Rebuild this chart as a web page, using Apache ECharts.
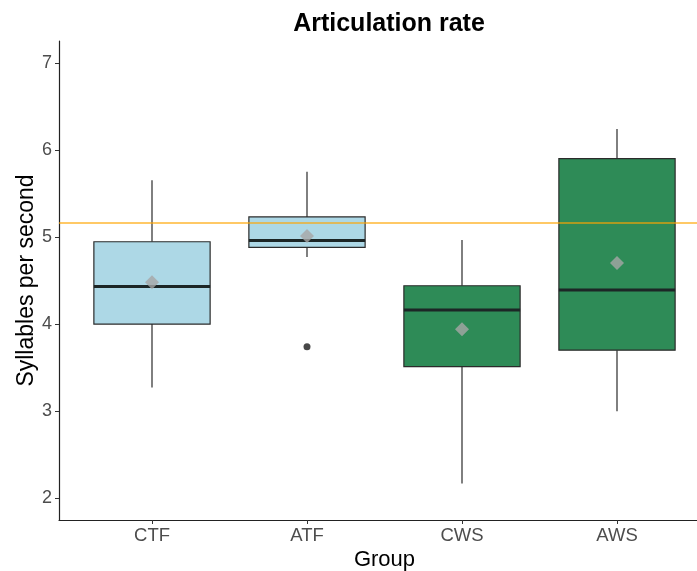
<!DOCTYPE html>
<html>
<head>
<meta charset="utf-8">
<script src="https://cdn.jsdelivr.net/npm/echarts@6/dist/echarts.min.js"></script>
<style>html,body{margin:0;padding:0;background:#fff;}#c{width:697px;height:571px;}</style>
</head>
<body>
<div id="c"></div>
<script>
// ---- data ----
var categories = ['CTF', 'ATF', 'CWS', 'AWS'];
var whiskerLow = [3.27, 4.77, 2.17, 3.00];
var q1 = [4.00, 4.88, 3.51, 3.70];
var median = [4.43, 4.96, 4.16, 4.39];
var q3 = [4.945, 5.23, 4.44, 5.90];
var whiskerHigh = [5.65, 5.75, 4.965, 6.24];
var means = [4.48, 5.01, 3.94, 4.70];
var outlierGroup = ['ATF'];
var outlierValue = [3.74];
var referenceLine = 5.157;
var yTicks = [2, 3, 4, 5, 6, 7];
var boxColors = ['#ADD8E6', '#ADD8E6', '#2E8B57', '#2E8B57'];

// ---- build ----
var xPos = categories.map(function (c, i) { return i + 1; });
var boxData = categories.map(function (c, i) {
  return [xPos[i], whiskerLow[i], q1[i], median[i], q3[i], whiskerHigh[i], i];
});
var meanData = categories.map(function (c, i) { return [xPos[i], means[i]]; });
var outlierData = outlierGroup.map(function (g, k) {
  return [categories.indexOf(g) + 1, outlierValue[k]];
});
var boxWidth = 0.75;

function renderBox(params, api) {
  var x = api.value(0);
  var low = api.coord([x, api.value(1)]);
  var b = api.coord([x, api.value(2)]);
  var m = api.coord([x, api.value(3)]);
  var t = api.coord([x, api.value(4)]);
  var high = api.coord([x, api.value(5)]);
  var left = api.coord([x - boxWidth / 2, 0])[0];
  var right = api.coord([x + boxWidth / 2, 0])[0];
  var idx = api.value(6);
  var stroke = '#2b2b2b';
  return {
    type: 'group',
    children: [
      { type: 'line', shape: { x1: high[0], y1: high[1], x2: high[0], y2: t[1] }, style: { stroke: stroke, lineWidth: 1.2 } },
      { type: 'line', shape: { x1: low[0], y1: b[1], x2: low[0], y2: low[1] }, style: { stroke: stroke, lineWidth: 1.2 } },
      { type: 'rect', shape: { x: left, y: t[1], width: right - left, height: b[1] - t[1] }, style: { fill: boxColors[idx], stroke: stroke, lineWidth: 1.2 } },
      { type: 'line', shape: { x1: left, y1: m[1], x2: right, y2: m[1] }, style: { stroke: '#1c2626', lineWidth: 3 } }
    ]
  };
}

var chart = echarts.init(document.getElementById('c'), null, { renderer: 'canvas' });
var font = '"Liberation Sans", Arial, sans-serif';
chart.setOption({
  animation: false,
  backgroundColor: '#ffffff',
  title: {
    text: 'Articulation rate',
    left: 384, top: 7, textAlign: 'center',
    textStyle: { fontFamily: font, fontSize: 25, fontWeight: 'bold', color: '#000' }
  },
  grid: { left: 59, top: 41, right: -13, height: 479, containLabel: false, outerBoundsMode: 'none' },
  xAxis: {
    type: 'value', min: 0.4, max: 4.6,
    name: 'Group', nameLocation: 'middle', nameGap: 29, nameMoveOverlap: false,
    nameTextStyle: { fontFamily: font, fontSize: 22, color: '#000' },
    axisLine: { show: true, onZero: false, lineStyle: { color: '#222', width: 1.2 } },
    axisTick: { show: true, length: 4, customValues: xPos, lineStyle: { color: '#333' } },
    axisLabel: {
      customValues: xPos, margin: 6,
      fontFamily: font, fontSize: 18.5, color: '#4d4d4d',
      formatter: function (v) { return categories[Math.round(v) - 1] || ''; }
    },
    splitLine: { show: false }
  },
  yAxis: {
    type: 'value', min: 1.75, max: 7.25,
    name: 'Syllables per second', nameLocation: 'middle', nameGap: 21, nameRotate: 90, nameMoveOverlap: false,
    nameTextStyle: { fontFamily: font, fontSize: 23, color: '#000' },
    axisLine: { show: true, onZero: false, lineStyle: { color: '#222', width: 1.2 } },
    axisTick: { show: true, length: 4, customValues: yTicks, lineStyle: { color: '#333' } },
    axisLabel: { customValues: yTicks, margin: 7, fontFamily: font, fontSize: 18, color: '#4d4d4d' },
    splitLine: { show: false }
  },
  series: [
    {
      type: 'custom', renderItem: renderBox, data: boxData,
      encode: { x: 0, y: [1, 2, 3, 4, 5] }, z: 2
    },
    {
      type: 'scatter', data: outlierData, symbol: 'circle', symbolSize: 7,
      itemStyle: { color: '#1a1a1a' }, z: 3
    },
    {
      type: 'scatter', data: meanData, symbol: 'diamond', symbolSize: 14,
      itemStyle: { color: '#A6A6A6' }, z: 4,
      markLine: {
        silent: true, symbol: ['none', 'none'], label: { show: false },
        lineStyle: { color: 'rgba(255,165,0,0.6)', width: 2, type: 'solid' },
        data: [{ yAxis: referenceLine }]
      }
    }
  ]
});
</script>
</body>
</html>
